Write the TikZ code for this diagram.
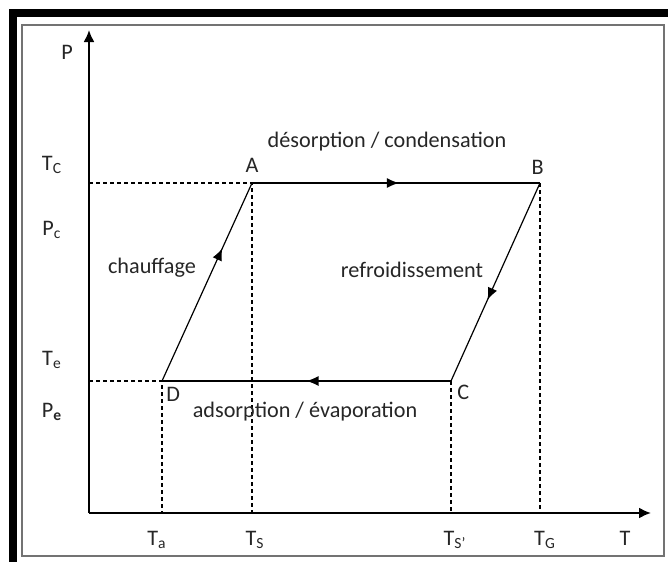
\documentclass[tikz,border=0pt]{standalone}
\usepackage{fontspec}
\setmainfont{Carlito}
\usetikzlibrary{arrows.meta,calc,decorations.markings,positioning}

\tikzset{
  lbl/.style={font=\fontsize{11.1}{13}\selectfont, text=black!85, inner sep=1pt},
  axis/.style={line width=1pt, -{Latex[length=6pt,width=5.5pt]}},
  guide/.style={line width=0.8pt, dash pattern=on 2pt off 1.5pt},
  cycleline/.style={line width=0.6pt, postaction={decorate},
    decoration={markings, mark=at position #1 with {\arrow{Latex[length=6pt,width=5pt]}}}},
  cycleline/.default=0.5
}

\begin{document}
\begin{tikzpicture}[x=0.5pt,y=-0.5pt]
\useasboundingbox (0,0) rectangle (668,562);
% frame
\fill[black] (9,9) rectangle (668,17);
\fill[black] (9,9) rectangle (17,562);
\draw[black!55, line width=0.6pt] (22,25) rectangle (664,556);

\coordinate (O) at (89,513);
\coordinate (Ptop) at (89,30);
\coordinate (Tend) at (651,513);
\coordinate (A) at (252,183);
\coordinate (B) at (540,183);
\coordinate (C) at (451,381);
\coordinate (D) at (162,381);

% guides
\draw[guide] (O |- A) -- (A) -- (A |- O);
\draw[guide] (O |- D) -- (D) -- (D |- O);
\draw[guide] (C) -- (C |- O);
\draw[guide] (B) -- (B |- O);

% axes
\draw[axis] (O) -- (Ptop);
\draw[axis] (O) -- (Tend);

% cycle
\draw[cycleline=0.51] (A) -- (B);
\draw[cycleline=0.59] (B) -- (C);
\draw[cycleline=0.50] (C) -- (D);
\draw[cycleline=0.67] (D) -- (A);

% labels
\node[lbl] (lP) at (67,52) {P};
\node[lbl] (lT) at (625,538) {T};
\node[lbl] (lTc) at (52,165) {T\textsubscript{C}};
\node[lbl] (lPc) at (52,230) {P\textsubscript{c}};
\node[lbl] (lTe) at (52,360) {T\textsubscript{e}};
\node[lbl] (lPe) at (52,412) {P\textsubscript{\textbf{e}}};
\node[lbl] (lTa) at (157,540) {T\textsubscript{a}};
\node[lbl] (lTs) at (255,540) {T\textsubscript{S}};
\node[lbl] (lTs2) at (455,540) {T\textsubscript{S'}};
\node[lbl] (lTg) at (545,540) {T\textsubscript{G}};

\node[lbl, above=4pt of A] (lA) {A};
\node[lbl, above left=3pt and -3pt of B] (lB) {B};
\node[lbl, below right=1pt and 2pt of C] (lC) {C};
\node[lbl, below right=2pt and 1pt of D] (lD) {D};

\node[lbl] (tdes) at (387,142) {désorption / condensation};
\node[lbl] (tch) at (152,268) {chauffage};
\node[lbl] (tref) at (412,270) {refroidissement};
\node[lbl] (tads) at (305,412) {adsorption / évaporation};
\end{tikzpicture}
\end{document}
